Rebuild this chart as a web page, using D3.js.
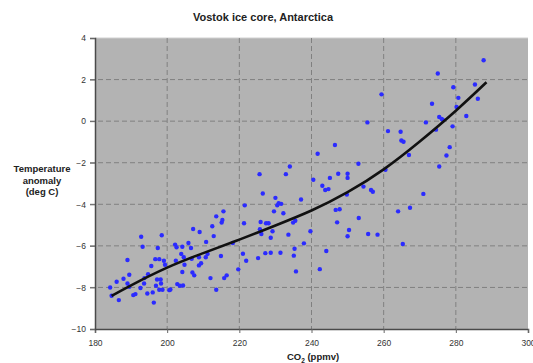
<!DOCTYPE html>
<html>
<head>
<meta charset="utf-8">
<title>Vostok ice core, Antarctica</title>
<script src="https://d3js.org/d3.v7.min.js"></script>
<style>
  body { margin: 0; background: #fff; font-family: "Liberation Sans", Arial, sans-serif; }
</style>
</head>
<body>
<svg id="chart"></svg>
<script>
// CO2 (ppmv) and temperature anomaly (deg C) for each sample
var co2 = [184.2,184.6,186.0,186.6,187.9,189.0,189.0,189.5,189.5,190.6,191.2,192.6,192.8,193.2,193.6,193.7,194.5,194.7,195.6,196.0,
  196.3,196.7,196.9,197.2,197.4,197.8,197.8,198.2,198.3,198.5,198.7,199.1,199.4,200.6,200.9,202.2,202.6,202.4,202.8,203.5,
  203.9,204.2,204.2,204.4,204.6,204.8,205.9,206.6,206.8,207.0,207.2,207.5,208.8,208.8,209.0,209.4,210.7,210.8,211.2,212.0,
  212.5,212.9,213.6,213.6,214.9,215.1,215.3,215.6,215.8,216.5,218.2,219.7,221.0,221.3,221.5,221.9,225.2,225.6,225.7,225.9,
  226.1,226.5,227.2,227.4,228.1,228.7,228.7,229.2,229.6,230.0,230.5,230.9,231.4,231.6,232.2,232.9,233.6,234.0,234.9,235.1,
  235.3,235.5,235.7,237.1,237.9,239.7,240.5,241.7,242.3,243.0,243.8,244.1,244.7,245.1,246.5,246.7,247.1,247.4,247.8,249.8,
  250.0,250.0,250.0,250.4,253.0,253.1,254.4,255.5,255.7,256.5,257.0,258.3,259.4,260.5,261.2,264.0,264.7,264.9,265.3,265.5,
  267.0,267.3,271.0,271.7,273.4,274.5,275.0,275.4,275.4,276.1,276.5,277.4,278.3,279.1,279.3,280.2,280.7,282.9,285.3,286.1,
  287.7];
var temp = [-8.0,-8.4,-7.73,-8.61,-7.58,-6.68,-7.81,-7.39,-7.97,-8.37,-8.32,-8.03,-5.56,-6.04,-7.81,-7.55,-8.29,-7.36,-6.97,-8.24,
  -8.73,-6.64,-7.92,-7.62,-6.10,-6.64,-8.11,-7.62,-7.81,-5.49,-8.11,-6.72,-6.91,-8.13,-8.10,-5.94,-6.07,-6.72,-7.84,-7.92,
  -6.39,-6.04,-7.26,-7.91,-6.55,-6.91,-5.86,-6.10,-6.62,-7.28,-5.19,-7.42,-6.55,-6.94,-5.33,-6.84,-6.55,-5.81,-6.39,-7.55,
  -5.06,-5.53,-4.58,-8.11,-6.49,-4.88,-4.75,-4.34,-7.55,-7.42,-5.86,-7.13,-6.38,-4.91,-4.05,-6.72,-6.59,-2.55,-5.20,-4.85,
  -5.43,-3.48,-6.35,-4.91,-4.91,-5.61,-6.33,-5.30,-4.34,-3.69,-4.05,-3.95,-6.33,-3.98,-4.43,-2.55,-5.46,-2.18,-4.88,-6.47,
  -6.14,-4.79,-7.23,-3.77,-5.88,-5.30,-2.82,-1.57,-7.12,-3.11,-3.31,-6.25,-3.27,-2.73,-1.15,-4.27,-4.87,-2.53,-4.24,-3.53,
  -5.54,-2.53,-2.73,-5.24,-2.05,-4.66,-3.15,-0.06,-5.43,-3.31,-3.40,-5.46,1.29,-2.34,-0.48,-4.34,-0.51,-0.93,-5.91,-0.99,
  -1.63,-4.17,-3.50,-0.06,0.84,-0.41,2.29,0.20,-2.18,0.10,0.04,-1.65,-1.25,-0.25,1.63,0.68,1.12,0.25,1.76,1.08,
  2.93];

// trend line
var trendCo2  = [184.6, 190, 200, 210, 220, 230, 240, 250, 260, 270, 280, 288.5];
var trendTemp = [-8.41, -7.9, -7.05, -6.35, -5.7, -5.02, -4.3, -3.42, -2.32, -0.98, 0.5, 1.87];

var xTicks = [180, 200, 220, 240, 260, 280, 300];
var yTicks = [4, 2, 0, -2, -4, -6, -8, -10];

var W = 533, H = 363;
var margin = {top: 38, right: 5, bottom: 34, left: 95};
var width = W - margin.left - margin.right,
    height = H - margin.top - margin.bottom;

var svg = d3.select("#chart")
  .attr("width", W)
  .attr("height", H);

var g = svg.append("g")
  .attr("transform", "translate(" + margin.left + "," + margin.top + ")");

var x = d3.scaleLinear().domain([180, 300]).range([0, width]);
var y = d3.scaleLinear().domain([-10, 4]).range([height, 0]);

// plot background
g.append("rect")
  .attr("width", width)
  .attr("height", height)
  .attr("fill", "#b3b3b3");
g.append("line")
  .attr("x1", 0).attr("x2", width)
  .attr("y1", 0).attr("y2", 0)
  .attr("stroke", "#d0d0d0");

// dashed grid
g.selectAll(".vgrid")
  .data(xTicks.slice(1, -1))
  .enter().append("line")
  .attr("class", "vgrid")
  .attr("x1", d => x(d)).attr("x2", d => x(d))
  .attr("y1", 0).attr("y2", height)
  .attr("stroke", "#808080")
  .attr("stroke-dasharray", "5,3");
g.selectAll(".hgrid")
  .data(yTicks.slice(1, -1))
  .enter().append("line")
  .attr("class", "hgrid")
  .attr("x1", -5).attr("x2", width)
  .attr("y1", d => y(d)).attr("y2", d => y(d))
  .attr("stroke", "#808080")
  .attr("stroke-dasharray", "5,3");

// axes
var xAxis = g.append("g")
  .attr("transform", "translate(0," + height + ")")
  .call(d3.axisBottom(x).tickValues(xTicks).tickSize(4).tickPadding(7));
var yAxis = g.append("g")
  .call(d3.axisLeft(y).tickValues(yTicks).tickSize(5).tickPadding(4));

[xAxis, yAxis].forEach(function(a) {
  a.select(".domain").attr("stroke", "#4a4a4a").attr("stroke-width", 1.5);
  a.selectAll(".tick line").attr("stroke", "#666");
  a.selectAll("text")
    .attr("fill", "#333")
    .style("font-family", "'Liberation Sans', Arial, sans-serif")
    .style("font-size", "8.5px");
});

// data points
var pts = d3.zip(co2, temp);
g.selectAll("circle")
  .data(pts)
  .enter().append("circle")
  .attr("cx", d => x(d[0]))
  .attr("cy", d => y(d[1]))
  .attr("r", 2.2)
  .attr("fill", "#2b2bff");

// trend line
var line = d3.line()
  .x(d => x(d[0]))
  .y(d => y(d[1]))
  .curve(d3.curveNatural);
g.append("path")
  .datum(d3.zip(trendCo2, trendTemp))
  .attr("d", line)
  .attr("fill", "none")
  .attr("stroke", "#111")
  .attr("stroke-width", 2.6);

// title
svg.append("text")
  .attr("x", 263).attr("y", 21)
  .attr("text-anchor", "middle")
  .style("font-size", "11px")
  .style("font-weight", "bold")
  .attr("fill", "#222")
  .text("Vostok ice core, Antarctica");

// y axis title
var yt = svg.append("text")
  .attr("text-anchor", "middle")
  .style("font-size", "9.5px")
  .style("font-weight", "bold")
  .attr("fill", "#222");
["Temperature", "anomaly", "(deg C)"].forEach(function(s, i) {
  yt.append("tspan").attr("x", 42).attr("y", 172 + i * 11.5).text(s);
});

// x axis title
var xt = svg.append("text")
  .attr("x", 313).attr("y", 360)
  .attr("text-anchor", "middle")
  .style("font-size", "9.5px")
  .style("font-weight", "bold")
  .attr("fill", "#222");
xt.append("tspan").text("CO");
xt.append("tspan").attr("dy", 2.5).style("font-size", "6.5px").text("2");
xt.append("tspan").attr("dy", -2.5).text(" (ppmv)");
</script>
</body>
</html>
